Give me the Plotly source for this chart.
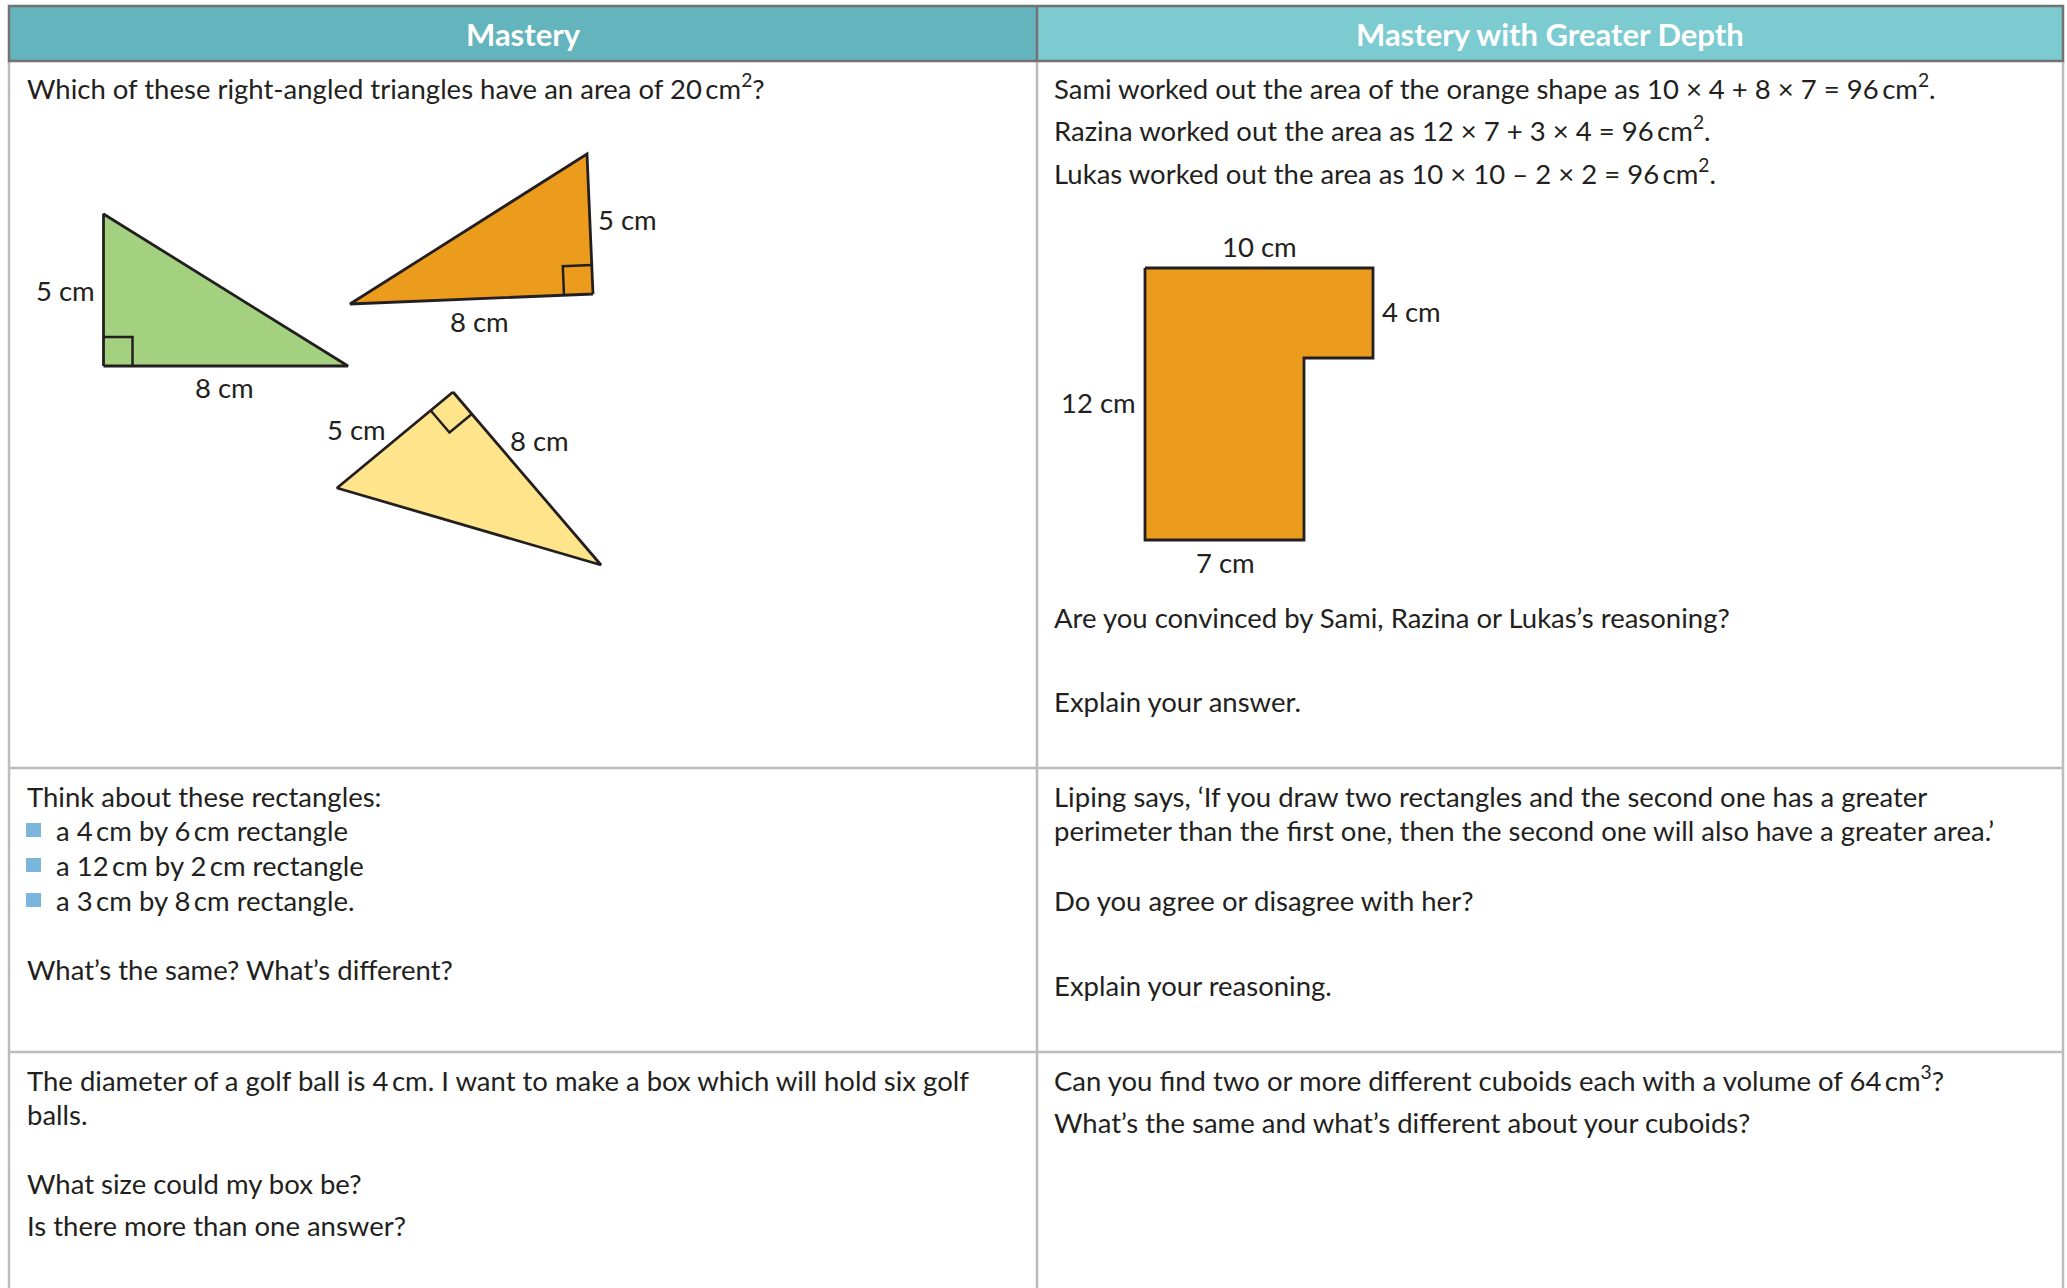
import plotly.graph_objects as go

W, H = 2067, 1288

# table grid
col_left, col_mid, col_right = 9, 1037, 2063
head_top, head_bot = 6, 61
row_lines = [768, 1052]
headers = ["Mastery", "Mastery with Greater Depth"]
head_colors = ["#63b4bc", "#7ccbd1"]

# triangles (vertex lists, right-angle vertex first)
green_x = [103.5, 103.5, 348]
green_y = [366, 214, 366]
orange_x = [593, 587, 350]
orange_y = [294, 154, 304]
yellow_x = [453, 337, 601]
yellow_y = [392, 488, 565]
tri_colors = ["#a3d17f", "#ec9c1c", "#fee58c"]

# L-shape
l_x = [1145, 1373, 1373, 1304, 1304, 1145]
l_y = [268, 268, 358, 358, 540, 540]
l_color = "#ec9c1c"

# labels on the shapes: (text, x, y)
shape_labels = [
    ("5 cm", 65, 290), ("8 cm", 224, 387),
    ("5 cm", 627, 219), ("8 cm", 479, 321),
    ("5 cm", 356, 429), ("8 cm", 539, 440),
    ("10 cm", 1259, 246), ("4 cm", 1411, 311),
    ("12 cm", 1098, 402), ("7 cm", 1225, 562),
]

# body text lines: (text, x, y)
left_x, right_x, bullet_text_x = 25, 1052, 54
body_lines = [
    ("Which of these right-angled triangles have an area of 20\u2009cm<sup>2</sup>?", left_x, 86),
    ("Sami worked out the area of the orange shape as 10 \u00d7 4 + 8 \u00d7 7 = 96\u2009cm<sup>2</sup>.", right_x, 86),
    ("Razina worked out the area as 12 \u00d7 7 + 3 \u00d7 4 = 96\u2009cm<sup>2</sup>.", right_x, 128),
    ("Lukas worked out the area as 10 \u00d7 10 \u2013 2 \u00d7 2 = 96\u2009cm<sup>2</sup>.", right_x, 171),
    ("Are you convinced by Sami, Razina or Lukas\u2019s reasoning?", right_x, 617),
    ("Explain your answer.", right_x, 701),
    ("Think about these rectangles:", left_x, 796),
    ("a 4\u2009cm by 6\u2009cm rectangle", bullet_text_x, 830),
    ("a 12\u2009cm by 2\u2009cm rectangle", bullet_text_x, 865),
    ("a 3\u2009cm by 8\u2009cm rectangle.", bullet_text_x, 900),
    ("What\u2019s the same? What\u2019s different?", left_x, 969),
    ("Liping says, \u2018If you draw two rectangles and the second one has a greater", right_x, 796),
    ("perimeter than the first one, then the second one will also have a greater area.\u2019", right_x, 830),
    ("Do you agree or disagree with her?", right_x, 900),
    ("Explain your reasoning.", right_x, 985),
    ("The diameter of a golf ball is 4\u2009cm. I want to make a box which will hold six golf", left_x, 1080),
    ("balls.", left_x, 1114),
    ("What size could my box be?", left_x, 1183),
    ("Is there more than one answer?", left_x, 1225),
    ("Can you find two or more different cuboids each with a volume of 64\u2009cm<sup>3</sup>?", right_x, 1078),
    ("What\u2019s the same and what\u2019s different about your cuboids?", right_x, 1122),
]
bullet_y = [830, 865, 900]

ink = "#231f20"
font_name = "Lato"
fs = 27.5


def right_angle(xs, ys, size):
    # square marker at the first vertex
    cx, cy = xs[0], ys[0]
    ax, ay = xs[1] - cx, ys[1] - cy
    bx, by = xs[2] - cx, ys[2] - cy
    la = (ax * ax + ay * ay) ** 0.5
    lb = (bx * bx + by * by) ** 0.5
    ax, ay, bx, by = ax / la * size, ay / la * size, bx / lb * size, by / lb * size
    return [cx + ax, cx + ax + bx, cx + bx], [cy + ay, cy + ay + by, cy + by]


fig = go.Figure()

for xs, ys, c in zip([green_x, orange_x, yellow_x], [green_y, orange_y, yellow_y], tri_colors):
    fig.add_trace(go.Scatter(x=xs + [xs[0]], y=ys + [ys[0]], fill="toself", fillcolor=c,
                             mode="lines", line=dict(color=ink, width=2.8), hoverinfo="skip"))
    mx, my = right_angle(xs, ys, 29)
    fig.add_trace(go.Scatter(x=mx, y=my, mode="lines", line=dict(color=ink, width=2.5), hoverinfo="skip"))

fig.add_trace(go.Scatter(x=l_x + [l_x[0]], y=l_y + [l_y[0]], fill="toself", fillcolor=l_color,
                         mode="lines", line=dict(color=ink, width=2.8), hoverinfo="skip"))

shapes = []
# header cells
shapes.append(dict(type="rect", x0=col_left, x1=col_mid, y0=head_top, y1=head_bot,
                   fillcolor=head_colors[0], line=dict(width=0), layer="below"))
shapes.append(dict(type="rect", x0=col_mid, x1=col_right, y0=head_top, y1=head_bot,
                   fillcolor=head_colors[1], line=dict(width=0), layer="below"))
# body grid lines
grid = dict(color="#bdbbbb", width=2.5)
for x in [col_left, col_mid, col_right]:
    shapes.append(dict(type="line", x0=x, x1=x, y0=head_bot, y1=H + 5, line=grid))
for y in row_lines:
    shapes.append(dict(type="line", x0=col_left, x1=col_right, y0=y, y1=y, line=grid))
# header outline
head_line = dict(color="#737171", width=2.5)
shapes.append(dict(type="rect", x0=col_left, x1=col_right, y0=head_top, y1=head_bot, line=head_line))
shapes.append(dict(type="line", x0=col_mid, x1=col_mid, y0=head_top, y1=head_bot, line=head_line))
# bullets
for y in bullet_y:
    shapes.append(dict(type="rect", x0=26, x1=41, y0=y - 7, y1=y + 7,
                       fillcolor="#7ab6dc", line=dict(width=0)))

ann = []
for txt, cx in zip(headers, [(col_left + col_mid) / 2, (col_mid + col_right) / 2]):
    ann.append(dict(x=cx, y=34, text="<b>" + txt + "</b>", showarrow=False,
                    font=dict(family=font_name, size=31, color="white"),
                    xanchor="center", yanchor="middle"))
for txt, x, y in shape_labels:
    ann.append(dict(x=x, y=y, text=txt, showarrow=False,
                    font=dict(family=font_name, size=fs, color=ink),
                    xanchor="center", yanchor="middle"))
for txt, x, y in body_lines:
    ann.append(dict(x=x, y=y, text=txt, showarrow=False,
                    font=dict(family=font_name, size=fs, color=ink),
                    xanchor="left", yanchor="middle"))

fig.update_layout(
    width=W, height=H,
    margin=dict(l=0, r=0, t=0, b=0),
    paper_bgcolor="white", plot_bgcolor="white",
    showlegend=False,
    xaxis=dict(range=[0, W], visible=False, fixedrange=True),
    yaxis=dict(range=[H, 0], visible=False, fixedrange=True),
    shapes=shapes, annotations=ann,
)
# drop the page margin so the figure fills the window
fig.write_html("out.html", config={"displayModeBar": False},
               post_script="document.body.style.margin='0';document.body.style.overflow='hidden';")
